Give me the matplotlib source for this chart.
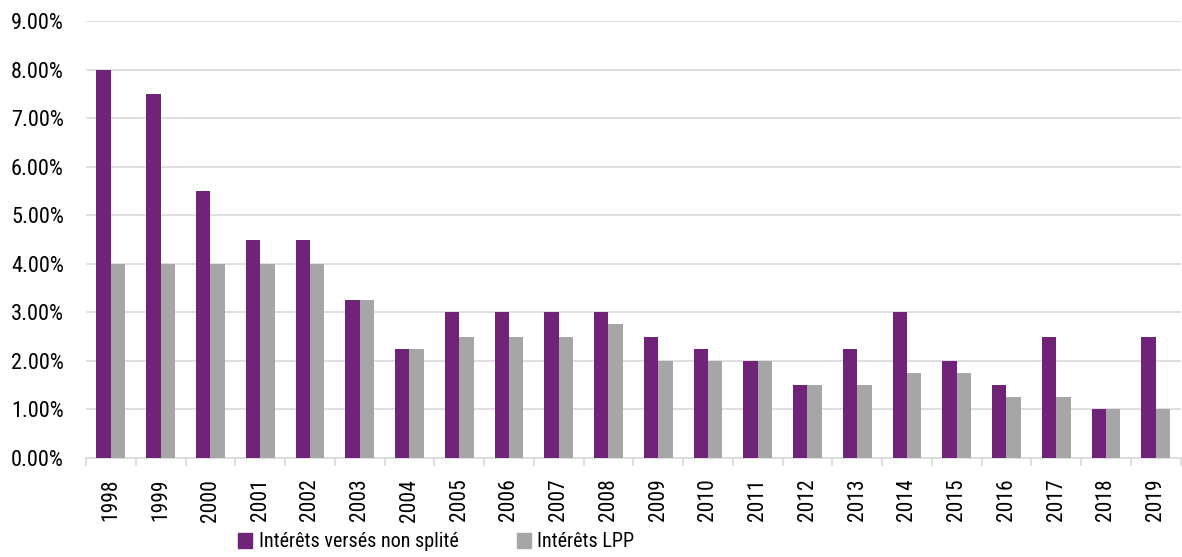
import matplotlib
matplotlib.use("Agg")
import matplotlib.pyplot as plt
import numpy as np
from matplotlib.ticker import FuncFormatter, MultipleLocator
from matplotlib.patches import Patch

years = [str(y) for y in range(1998, 2020)]
non_split = [8, 7.5, 5.5, 4.5, 4.5, 3.25, 2.25, 3, 3, 3, 3, 2.5, 2.25, 2, 1.5, 2.25, 3, 2, 1.5, 2.5, 1, 2.5]
lpp = [4, 4, 4, 4, 4, 3.25, 2.25, 2.5, 2.5, 2.5, 2.75, 2, 2, 2, 1.5, 1.5, 1.75, 1.75, 1.25, 1.25, 1, 1]
labels = ["Intérêts versés non splité", "Intérêts LPP"]
colors = ["#702479", "#A6A6A6"]

plt.rcParams['font.family'] = ['Roboto Condensed', 'Roboto', 'DejaVu Sans']

fig = plt.figure(figsize=(11.82, 5.57), dpi=100)
ax = fig.add_axes([0.0728, 0.178, 0.926, 0.784])

x = np.arange(len(years))
w = 0.29
ax.bar(x - w/2, non_split, w, color=colors[0], zorder=3)
ax.bar(x + w/2, lpp, w, color=colors[1], zorder=3)

ax.set_ylim(0, 9)
ax.set_xlim(-0.5, len(years) - 0.5)
ax.yaxis.set_major_locator(MultipleLocator(1))
ax.yaxis.set_major_formatter(FuncFormatter(lambda v, p: f"{v:.2f}%"))
ax.grid(axis='y', color='#D9D9D9', linewidth=1.2, zorder=0)
for s in ['top', 'right', 'left']:
    ax.spines[s].set_visible(False)
ax.spines['bottom'].set_color('#D9D9D9')
ax.spines['bottom'].set_linewidth(1.2)

ax.set_xticks(x)
ax.set_xticklabels(years, rotation=90, fontsize=15.5)
ax.tick_params(axis='x', length=0, pad=15)
ax.set_xticks(np.arange(-0.5, len(years)), minor=True)
ax.tick_params(axis='x', which='minor', length=6, color='#D9D9D9', width=1.2)
ax.tick_params(axis='y', length=0, labelsize=16, pad=16)

handles = [Patch(color=c) for c in colors]
fig.legend(handles, labels, loc='center', bbox_to_anchor=(0.369, 0.027), ncol=2,
           frameon=False, fontsize=14.5, handlelength=0.7, handleheight=0.8,
           handletextpad=0.3, columnspacing=2.9)

fig.savefig("out.png", dpi=100)
